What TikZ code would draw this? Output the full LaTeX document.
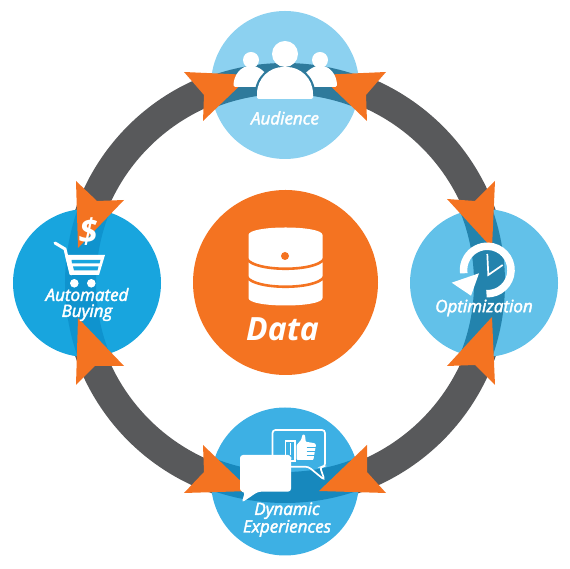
\documentclass[tikz,border=0pt]{standalone}
\usepackage{fontspec}
\setmainfont{Open Sans}
\newfontfamily\stagefont[FakeBold=2.4]{Open Sans}
\usetikzlibrary{backgrounds}
\definecolor{dataorange}{HTML}{F47321}
\definecolor{ringgray}{HTML}{58595B}
\definecolor{audiencefill}{HTML}{8CD1F0}
\definecolor{audienceband}{HTML}{2E7A9C}
\definecolor{buyingfill}{HTML}{18A5DE}
\definecolor{buyingband}{HTML}{0F93CE}
\definecolor{optimfill}{HTML}{62C1E9}
\definecolor{optimband}{HTML}{2383AD}
\definecolor{dynamicfill}{HTML}{3DB0E4}
\definecolor{dynamicband}{HTML}{1788BD}
\begin{document}
\begin{tikzpicture}[
    x=1pt, y=1pt,
    % Stage circle with the ring showing through it
    stage/.style 2 args={
        circle, fill=#1, minimum size=148pt, inner sep=0pt,
        path picture={\draw[#2, line width=31pt] (ringcenter) circle (204.5);}
    },
    % Grey ring part between two stages
    ringpart/.style={ringgray, line width=30pt},
    % Orange head on the ring
    ringhead/.style={fill=dataorange},
    % White icon part
    iconpart/.style={fill=white},
    % Text inside a stage
    stage label/.style={
        font=\stagefont\fontsize{17}{16}\selectfont\itshape, text=white,
        align=center, inner sep=0pt
    }
]
\useasboundingbox (0,0) rectangle (570,569);
\coordinate (ringcenter) at (285,286);

% --- Circles ---
\node[circle, fill=dataorange, minimum size=185pt, inner sep=0pt] (data) at (285.5,286.5) {};
% Top
\node[stage={audiencefill}{audienceband}] (audience) at (285,484) {};
% Right
\node[stage={optimfill}{optimband}] (optimization) at (484,286) {};
% Bottom
\node[stage={dynamicfill}{dynamicband}] (dynamic) at (285,87.5) {};
% Left
\node[stage={buyingfill}{buyingband}] (buying) at (87,286) {};

% --- Ring parts, behind the circles ---
\begin{scope}[on background layer]
\draw[ringpart] ([yshift=9pt]audience.center) to[out=0, in=90] ([xshift=9pt]optimization.center);
\draw[ringpart] ([xshift=9pt]optimization.center) to[out=-90, in=0] ([yshift=-9pt]dynamic.center);
\draw[ringpart] ([yshift=-9pt]dynamic.center) to[out=180, in=-90] ([xshift=-9pt]buying.center);
\draw[ringpart] ([xshift=-9pt]buying.center) to[out=90, in=180] ([yshift=9pt]audience.center);
\end{scope}

% --- Orange heads ---
\fill[ringhead] (184,497) -- (204,474) -- (203,448) -- (251,494) -- cycle;
\fill[ringhead] (386,497) -- (366,474) -- (367,448) -- (319,494) -- cycle;
\fill[ringhead] (76,388) -- (97,368) -- (124,369) -- (78,321) -- cycle;
\fill[ringhead] (495,388) -- (475,368) -- (447,370) -- (492,321) -- cycle;
\fill[ringhead] (76,184) -- (95,203) -- (124,203) -- (78,251) -- cycle;
\fill[ringhead] (495,184) -- (475,204) -- (447,203) -- (492,252) -- cycle;
\fill[ringhead] (203,124) -- (204,97) -- (184,76) -- (251,78) -- cycle;
\fill[ringhead] (367,124) -- (367,97) -- (386,76) -- (319,78) -- cycle;

% --- Data icon ---
\fill[iconpart] (248.5,271) .. controls (248.5,261) and (322.5,261) .. (322.5,271)
    -- (322.5,334) .. controls (322.5,344) and (248.5,344) .. (248.5,334) -- cycle;
\draw[dataorange, line width=2.6pt] (247,310) .. controls (255,297) and (316,297) .. (324,310);
\draw[dataorange, line width=2.6pt] (247,292) .. controls (255,279) and (316,279) .. (324,292);
\fill[dataorange] (285,313) circle (4);
\node[font=\fontsize{32}{32}\selectfont\itshape\bfseries, text=white, inner sep=0pt] (datalabel) at (282.5,240) {Data};

% --- Audience icon ---
\fill[iconpart] (251,509) circle (8);
\fill[iconpart] (320,509) circle (8);
\fill[iconpart, rounded corners=1.5pt] (233.5,482) .. controls (233.5,494) and (241,503) .. (251,503)
    .. controls (258,503) and (266,497) .. (270,489) -- (270,482) -- cycle;
\fill[iconpart, rounded corners=1.5pt] (337,482) .. controls (337,494) and (330,503) .. (320,503)
    .. controls (313,503) and (305,497) .. (301,489) -- (301,482) -- cycle;
\draw[audienceband, line width=5pt] (257,473) .. controls (257,491) and (270,502) .. (285,502)
    .. controls (300,502) and (313,491) .. (313,473);
\fill[iconpart, rounded corners=2pt] (257,470) -- (257,473) .. controls (257,491) and (270,502) .. (285,502)
    .. controls (300,502) and (313,491) .. (313,473) -- (313,470) -- cycle;
\fill[iconpart] (285,515) circle (13);
\node[stage label] (audiencelabel) at (285,451) {Audience};

% --- Buying icon ---
\draw[white, line width=3pt, line cap=round] (55,326) -- (65,320) -- (71,295);
\fill[iconpart] (65,314) -- (105,314) -- (99,294) -- (70,294) -- cycle;
\fill[buyingfill] (71.5,309) -- (100.5,309) -- (99.5,305.5) -- (72,305.5) -- cycle;
\fill[buyingfill] (73,302.5) -- (98.5,302.5) -- (97.5,298.5) -- (74,298.5) -- cycle;
\fill[iconpart] (74.3,285.7) circle (4.3);
\fill[iconpart] (91.3,285.7) circle (4.3);
\node[font=\fontsize{34}{34}\selectfont\itshape\bfseries, text=white, inner sep=0pt] (dollar) at (88,337) {\$};
\node[stage label] (buyinglabel) at (87,264.5) {Automated\\Buying};

% --- Optimization icon ---
\coordinate (clock) at (487.3,299);
\draw[white, line width=7.5pt] ([shift={(-92:23.75)}]clock) arc[start angle=-92, end angle=188, radius=23.75];
\fill[iconpart] (451.7,286.3) -- (479,295.7) -- (471,273.3) -- cycle;
\draw[white, line width=1.7pt] (487.3,315) -- (488.3,294) -- (502.7,304);
\node[stage label] (optimizationlabel) at (484,261) {Optimization};

% --- Dynamic icon ---
\draw[white, line width=1.7pt, rounded corners=3pt] (272.5,139) -- (325,139) -- (325,102.3) -- (320,102.3)
    -- (324.5,89) -- (308.3,102.3) -- (272.5,102.3) -- cycle;
\fill[iconpart, rounded corners=3pt] (240,114) -- (291,114) -- (291,77.3) -- (258,77.3)
    -- (241.7,66.3) -- (245,77.3) -- (240,77.3) -- cycle;
\draw[white, line width=1.2pt] (285.7,128) rectangle (295,108);
\fill[iconpart] (290,125.5) rectangle (291.4,114);
\fill[iconpart] (290.7,111) circle (1);
\fill[iconpart, rounded corners=0.8pt] (296.7,124) -- (301,129) -- (302.7,134.7) -- (305,134) -- (305.7,127.3) -- (315,125.7) -- (316,124)
    -- (313.3,109) -- (296.7,109) -- cycle;
\draw[dynamicfill, line width=0.8pt] (306.7,122) -- (317,122);
\draw[dynamicfill, line width=0.8pt] (306.7,118) -- (317,118);
\draw[dynamicfill, line width=0.8pt] (306.7,114) -- (317,114);
\node[stage label] (dynamiclabel) at (287,49.5) {Dynamic\\Experiences};
\end{tikzpicture}
\end{document}
